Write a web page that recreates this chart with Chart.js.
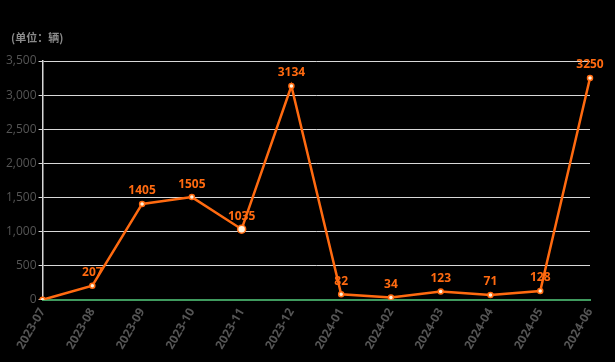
<!DOCTYPE html>
<html>
<head>
<meta charset="utf-8">
<script src="https://cdn.jsdelivr.net/npm/chart.js@4.4.8/dist/chart.umd.min.js"></script>
<style>
  html, body { margin: 0; padding: 0; background: #000; }
  #wrap { width: 615px; height: 362px; }
</style>
</head>
<body>
<div id="wrap"><canvas id="c"></canvas></div>
<script>
const months = [
  "2023-07", "2023-08", "2023-09", "2023-10", "2023-11", "2023-12",
  "2024-01", "2024-02", "2024-03", "2024-04", "2024-05", "2024-06",
];
const sales = [0, 207, 1405, 1505, 1035, 3134, 82, 34, 123, 71, 128, 3250];
const yTicks = [0, 500, 1000, 1500, 2000, 2500, 3000, 3500];
const unitTitle = "(单位：辆)";

const orange = "#ff6a10";

// value labels above each point (no datalabels plugin here)
const pointLabels = {
  id: "pointLabels",
  afterDatasetsDraw(chart) {
    const ctx = chart.ctx;
    const meta = chart.getDatasetMeta(0);
    ctx.save();
    ctx.font = "bold 12px 'Open Sans', sans-serif";
    ctx.fillStyle = orange;
    ctx.textAlign = "center";
    ctx.textBaseline = "bottom";
    meta.data.forEach((pt, i) => {
      if (sales[i] === 0) return;
      ctx.fillText(String(sales[i]), pt.x, pt.y - 7);
    });
    // unit title top-left
    ctx.font = "bold 11px 'Noto Sans CJK SC', sans-serif";
    ctx.fillStyle = "#8a8a8a";
    ctx.textAlign = "left";
    ctx.textBaseline = "middle";
    ctx.fillText(unitTitle, 11, 38);
    ctx.restore();
  },
};

new Chart(document.getElementById("c"), {
  type: "line",
  data: {
    labels: months,
    datasets: [
      {
        label: "sales",
        data: sales,
        borderColor: orange,
        borderWidth: 2.5,
        pointBackgroundColor: "#fff3dc",
        pointBorderColor: orange,
        pointBorderWidth: 1.5,
        pointRadius: sales.map((v, i) => (i === 4 ? 4 : 2.5)),
        tension: 0,
      },
    ],
  },
  options: {
    responsive: true,
    maintainAspectRatio: false,
    animation: false,
    layout: { padding: { left: 4, right: 25, top: 61, bottom: 9 } },
    plugins: {
      legend: { display: false },
      tooltip: { enabled: false },
      title: { display: false },
    },
    scales: {
      x: {
        offset: false,
        grid: {
          display: false,
          drawTicks: true,
          tickLength: 5,
          tickColor: "#3f9a5e",
        },
        border: { color: "#3f9a5e", width: 2 },
        ticks: {
          color: "#555555",
          font: { size: 12, weight: "bold", family: "'Open Sans', sans-serif" },
          maxRotation: 60,
          minRotation: 60,
          autoSkip: false,
          padding: 1,
        },
      },
      y: {
        min: 0,
        max: 3500,
        afterBuildTicks: (axis) => {
          axis.ticks = yTicks.map((v) => ({ value: v }));
        },
        grid: {
          color: "#d8d8d8",
          lineWidth: 1,
          tickLength: 4,
          tickColor: "#d8d8d8",
        },
        border: { color: "#d8d8d8", width: 1.5 },
        ticks: {
          color: "#555555",
          font: { size: 12, family: "'Open Sans', sans-serif" },
          padding: 2,
          callback: (v) => v.toLocaleString("en-US"),
        },
      },
    },
  },
  plugins: [pointLabels],
});
</script>
</body>
</html>
